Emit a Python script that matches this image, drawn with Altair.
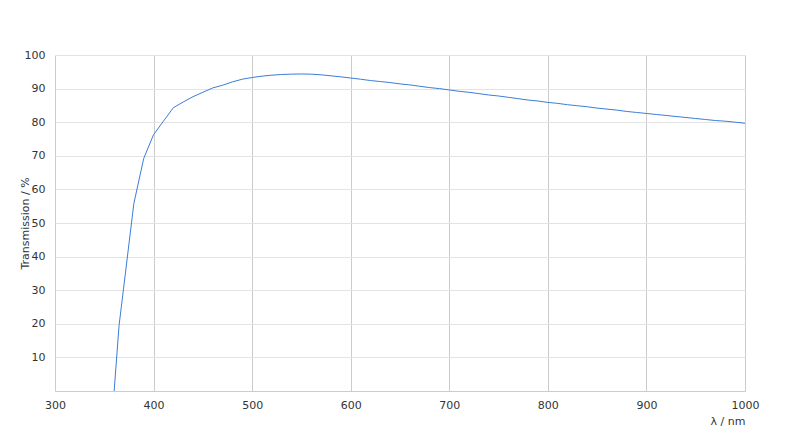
import altair as alt
import pandas as pd

wavelength = [360, 365, 380, 390, 400, 410, 420, 430, 440, 450, 460, 470, 480, 490,
              500, 510, 520, 530, 540, 550, 560, 570, 580, 590, 600, 610, 620, 630,
              640, 650, 660, 670, 680, 690, 700, 710, 720, 730, 740, 750, 760, 770,
              780, 790, 800, 810, 820, 830, 840, 850, 860, 870, 880, 890, 900, 910,
              920, 930, 940, 950, 960, 970, 980, 990, 1000]
transmission = [0, 19.5, 55.8, 69.2, 76.3, 80.3, 84.3, 86.0, 87.6, 88.9, 90.2, 91.0, 92.0, 92.8,
                93.3, 93.7, 94.0, 94.2, 94.3, 94.35, 94.3, 94.1, 93.8, 93.5, 93.15, 92.8, 92.4, 92.1,
                91.8, 91.4, 91.1, 90.7, 90.3, 90.0, 89.6, 89.2, 88.9, 88.5, 88.1, 87.8, 87.4, 87.0,
                86.6, 86.3, 85.9, 85.6, 85.2, 84.9, 84.6, 84.2, 83.9, 83.6, 83.2, 82.9, 82.6, 82.3,
                82.0, 81.7, 81.4, 81.1, 80.8, 80.5, 80.3, 80.0, 79.7]
x_ticks = [300, 400, 500, 600, 700, 800, 900, 1000]
y_ticks = [10, 20, 30, 40, 50, 60, 70, 80, 90, 100]

df = pd.DataFrame({"wl": wavelength, "T": transmission})

W, H = 690, 336
FONT = "DejaVu Sans"

xs = alt.Scale(domain=[300, 1000], nice=False)
ys = alt.Scale(domain=[0, 100], nice=False)

line = alt.Chart(df).mark_line(color="#3b7dd8", strokeWidth=1).encode(
    x=alt.X("wl:Q", scale=xs,
            axis=alt.Axis(values=x_ticks, format="d", title="λ / nm", grid=True,
                          gridColor="#cccccc", ticks=False, domain=True,
                          domainColor="#cccccc", labelFlush=False,
                          labelPadding=8, labelFontSize=11,
                          labelColor="#333333", labelFont=FONT,
                          titleFont=FONT, titleFontSize=11, titleFontWeight="normal",
                          titleColor="#333333", titleAnchor="end", titlePadding=5)),
    y=alt.Y("T:Q", scale=ys,
            axis=alt.Axis(values=y_ticks, format="d", title="Transmission / %", grid=True,
                          gridColor="#e3e3e3", ticks=False, domain=False,
                          labelFlush=False, labelPadding=10, labelFontSize=11,
                          labelColor="#333333", labelFont=FONT,
                          titleFont=FONT, titleFontSize=11, titleFontWeight="normal",
                          titleColor="#333333", titleX=-30, titleY=H / 2,
                          titleAlign="center", titleBaseline="middle", titleAngle=270)),
).properties(
    width=W, height=H,
    autosize=alt.AutoSizeParams(type="none"),
    padding={"left": 47, "top": 47, "right": 47, "bottom": 47},
    background="white",
).configure_view(stroke=None)

chart = line
chart.save("out.html", embed_options={"renderer": "svg", "actions": False})
